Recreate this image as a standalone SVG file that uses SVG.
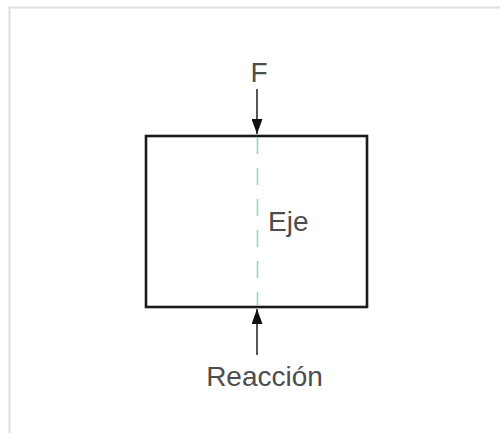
<svg xmlns="http://www.w3.org/2000/svg" width="500" height="433" viewBox="0 0 500 433">
<style>
.lbl{font-family:"Liberation Sans",Arial,sans-serif;font-size:28px;fill:#4d4d4d;}
.frame{fill:none;stroke:#dedede;stroke-width:2;}
.body{fill:#ffffff;stroke:#1a1a1a;stroke-width:2.6;}
.axis{stroke:#8fd8c0;stroke-width:1.6;stroke-dasharray:17 14;}
.force{stroke:#444444;stroke-width:1.8;fill:none;}
</style>
<defs>
<marker id="ah" viewBox="0 0 15 11" refX="15" refY="5.5" markerWidth="15" markerHeight="11" markerUnits="userSpaceOnUse" orient="auto">
<path d="M0,0 L15,5.5 L0,11 Z" fill="#111111"/>
</marker>
</defs>
<rect width="500" height="433" fill="#ffffff"/>
<rect class="frame" x="9.5" y="7.5" width="500" height="440"/>
<g id="cuerpo">
<rect class="body" x="146" y="136" width="221" height="171"/>
</g>
<g id="eje">
<line class="axis" x1="257.5" y1="137" x2="257.5" y2="306"/>
<text class="lbl" x="268" y="231">Eje</text>
</g>
<g id="fuerza">
<text class="lbl" x="259" y="82" text-anchor="middle">F</text>
</g>
<g id="reaccion">
<text class="lbl" x="264.5" y="386" text-anchor="middle">Reacción</text>
</g>
<g id="connectors">
<line class="force" x1="257" y1="89" x2="257" y2="134" marker-end="url(#ah)"/>
<line class="force" x1="257" y1="355" x2="257" y2="309" marker-end="url(#ah)"/>
</g>
</svg>
